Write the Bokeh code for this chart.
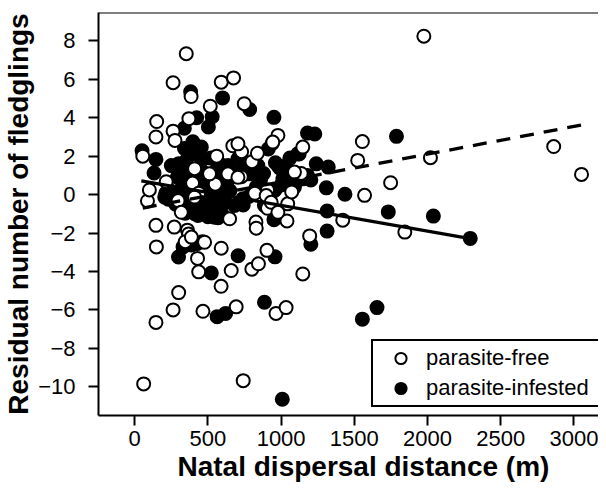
from bokeh.plotting import figure
from bokeh.models import Range1d, Legend, LegendItem, Span, Title, FixedTicker
from bokeh.embed import file_html
from bokeh.resources import INLINE

# parasite-free (open circles)
free_x = [55, 61, 87, 100, 145, 150, 145, 148, 145, 215, 262, 262, 275, 270, 262, 300,
          352, 370, 385, 360, 368, 345, 409, 395, 429, 437, 466, 477, 437, 516, 560, 550,
          591, 675, 591, 590, 648, 659, 693, 670, 730, 748, 728, 741, 801, 838, 820, 800,
          845, 828, 830, 907, 907, 903, 939, 978, 965, 1040, 1045, 1034, 1072, 1137, 1148,
          1148, 1195, 1421, 1523, 1555, 1570, 1748, 1845, 1975, 2020, 2862, 3052,
          511, 637, 705, 409, 898, 932, 978, 296, 318, 387, 1091, 705, 943]
free_y = [2.0, -9.85, -0.33, 0.24, 3.0, 3.8, -1.6, -2.72, -6.65, 0.67, 5.82, 3.3, 2.82, -1.69, -6.0, -5.1,
          7.33, 3.95, 5.1, -1.85, -2.05, -2.45, 1.35, 0.6, -3.32, -4.02, -6.07, -2.48, 0.07, 4.6, 2.0, 0.54,
          5.85, 6.07, -2.79, -4.77, -1.26, -3.95, -5.84, 2.54, 2.23, 4.73, 0.93, -9.68, 1.71, 2.15, 0.07, -3.88,
          -3.6, -1.43, -1.75, 0.24, -0.71, -2.9, 2.66, 3.08, -6.18, -1.37, -0.48, -5.88, 0.14, 1.1, 2.47,
          -4.13, -2.15, -1.33, 1.78, 2.76, -0.04, 0.62, -1.95, 8.24, 1.92, 2.5, 1.05,
          1.08, 1.08, 0.9, -0.13, -0.05, -0.4, -0.92, -0.31, -0.92, -2.21, 1.17, 2.64, 2.73]

# parasite-infested (filled circles)
inf_x = [50, 145, 132, 212, 230, 299, 339, 382, 378, 397, 405, 423, 503, 529, 600, 785, 951,
         728, 912, 961, 1032, 1123, 1180, 1230, 1322, 1203, 1309, 1102, 992, 1032, 961, 912,
         741, 951, 1203, 1314, 1314, 1436, 1732, 1788, 2040, 2292, 1555, 1655, 1008, 886,
         563, 621, 523, 706, 958, 330, 387, 462, 425, 344, 410, 470, 529, 570, 595, 500,
         239, 352, 352, 318, 466, 500, 569, 603, 637, 705, 727, 682, 739, 523, 432, 545,
         978, 1012, 955, 1091, 1148, 1114, 955, 886, 830, 841, 784, 455, 409, 205, 250,
         290, 380, 440, 560, 650, 780, 860, 1060, 700, 620, 320, 280, 480,
         335, 365, 395, 425, 455, 485, 515, 545, 575, 605, 360, 420, 490, 560, 630,
         300, 340, 400, 460, 520, 580, 640, 1000, 1040, 1180, 1240, 880, 820]
inf_y = [2.28, 1.83, 1.12, 0.07, -0.24, -3.25, 3.45, 5.35, 2.15, 2.75, 2.45, 4.0, 3.52, 4.05, 5.03, 4.43, 4.02,
         1.83, 2.37, 1.66, 1.5, 2.11, 3.2, 3.15, 1.43, 0.76, 0.35, 0.67, 1.37, 0.9, 0.28, -0.28,
         -0.54, -1.31, -2.58, -1.9, -0.85, 0.02, -0.9, 3.03, -1.12, -2.28, -6.48, -5.88, -10.65, -5.6,
         -6.35, -6.18, -4.08, -3.18, -3.24, -2.72, -2.62, -2.45, -2.55, -0.97, -1.0, -0.95, -0.97, -1.2, -1.0, -1.15,
         0.21, 1.77, 0.9, 0.3, 1.17, 0.47, -0.13, 0.82, 1.51, 1.86, 1.25, -0.57, -0.22, -0.66, -1.09, -1.18,
         1.51, 0.82, 0.21, 0.39, 0.82, 2.12, -1.26, -0.57, 0.39, 1.51, 1.08, 2.47, 2.12, -0.13, 1.51,
         0.9, 0.1, 0.5, 1.3, 0.2, -0.1, 0.8, 1.9, 1.0, -0.4, 1.2, -0.5, -0.4,
         -0.6, -0.3, 0.4, -0.5, 0.0, -0.7, 0.1, -0.4, 0.6, 0.3, 1.4, 0.9, 0.7, 0.9, 0.6,
         1.6, 2.4, 1.0, 1.8, 1.9, 1.6, 0.9, 0.5, 1.2, 1.0, 1.6, 1.1, 1.2]

# fitted regression lines
free_fit_x = [55, 3052]
free_fit_y = [-0.70, 3.62]
inf_fit_x = [45, 2292]
inf_fit_y = [0.72, -2.29]

x_ticks = [0, 500, 1000, 1500, 2000, 2500, 3000]
y_ticks = [-10, -8, -6, -4, -2, 0, 2, 4, 6, 8]

FONT = "Liberation Sans"

p = figure(width=598, height=483, output_backend="svg", toolbar_location=None,
           x_range=Range1d(-247.5, 3168), y_range=Range1d(-11.493, 9.474),
           min_border_left=97, min_border_right=0, min_border_top=12, min_border_bottom=68)
p.grid.visible = False
p.outline_line_color = None
p.background_fill_color = "white"
p.border_fill_color = "white"

for ax in (p.xaxis[0], p.yaxis[0]):
    ax.axis_line_color = "black"
    ax.axis_line_width = 2
    ax.major_tick_line_color = "black"
    ax.major_tick_line_width = 2
    ax.major_tick_out = 10
    ax.major_tick_in = 0
    ax.minor_tick_line_color = None
    ax.major_label_text_font = FONT
    ax.major_label_text_font_size = "22px"
    ax.major_label_text_color = "black"

p.xaxis.ticker = FixedTicker(ticks=x_ticks)
p.yaxis.ticker = FixedTicker(ticks=y_ticks)
p.xaxis.major_label_standoff = 5
p.yaxis.major_label_standoff = 13

p.yaxis.axis_label = "Residual number of fledglings"
p.yaxis.axis_label_text_font = FONT
p.yaxis.axis_label_text_font_size = "28px"
p.yaxis.axis_label_text_font_style = "bold"
p.yaxis.axis_label_text_color = "black"
p.yaxis.axis_label_standoff = 1

p.add_layout(Title(text="Natal dispersal distance (m)", align="left", offset=79,
                   text_font=FONT, text_font_size="28px", text_font_style="bold",
                   text_color="black", standoff=0), "below")

p.add_layout(Span(location=p.y_range.end, dimension="width", line_color="black", line_width=2))

r_inf = p.scatter(inf_x, inf_y, size=13, marker="circle", fill_color="black",
                  line_color="black", line_width=2)
r_free = p.scatter(free_x, free_y, size=13, marker="circle", fill_color="white",
                   line_color="black", line_width=2)

p.line(free_fit_x, free_fit_y, line_color="black", line_width=3.3, line_dash="14 10")
p.line(inf_fit_x, inf_fit_y, line_color="black", line_width=3.3)

legend = Legend(items=[LegendItem(label="parasite-free", renderers=[r_free]),
                       LegendItem(label="parasite-infested", renderers=[r_inf])],
                location=(273, 8), border_line_color="black", border_line_width=2,
                border_line_alpha=1,
                padding=3, spacing=2, glyph_width=49, glyph_height=28, label_standoff=1,
                label_width=175, label_text_font=FONT, label_text_font_size="22px",
                label_text_color="black",
                background_fill_color="white", background_fill_alpha=1, margin=0)
p.add_layout(legend)

open("out.html", "w").write(file_html(p, INLINE))
